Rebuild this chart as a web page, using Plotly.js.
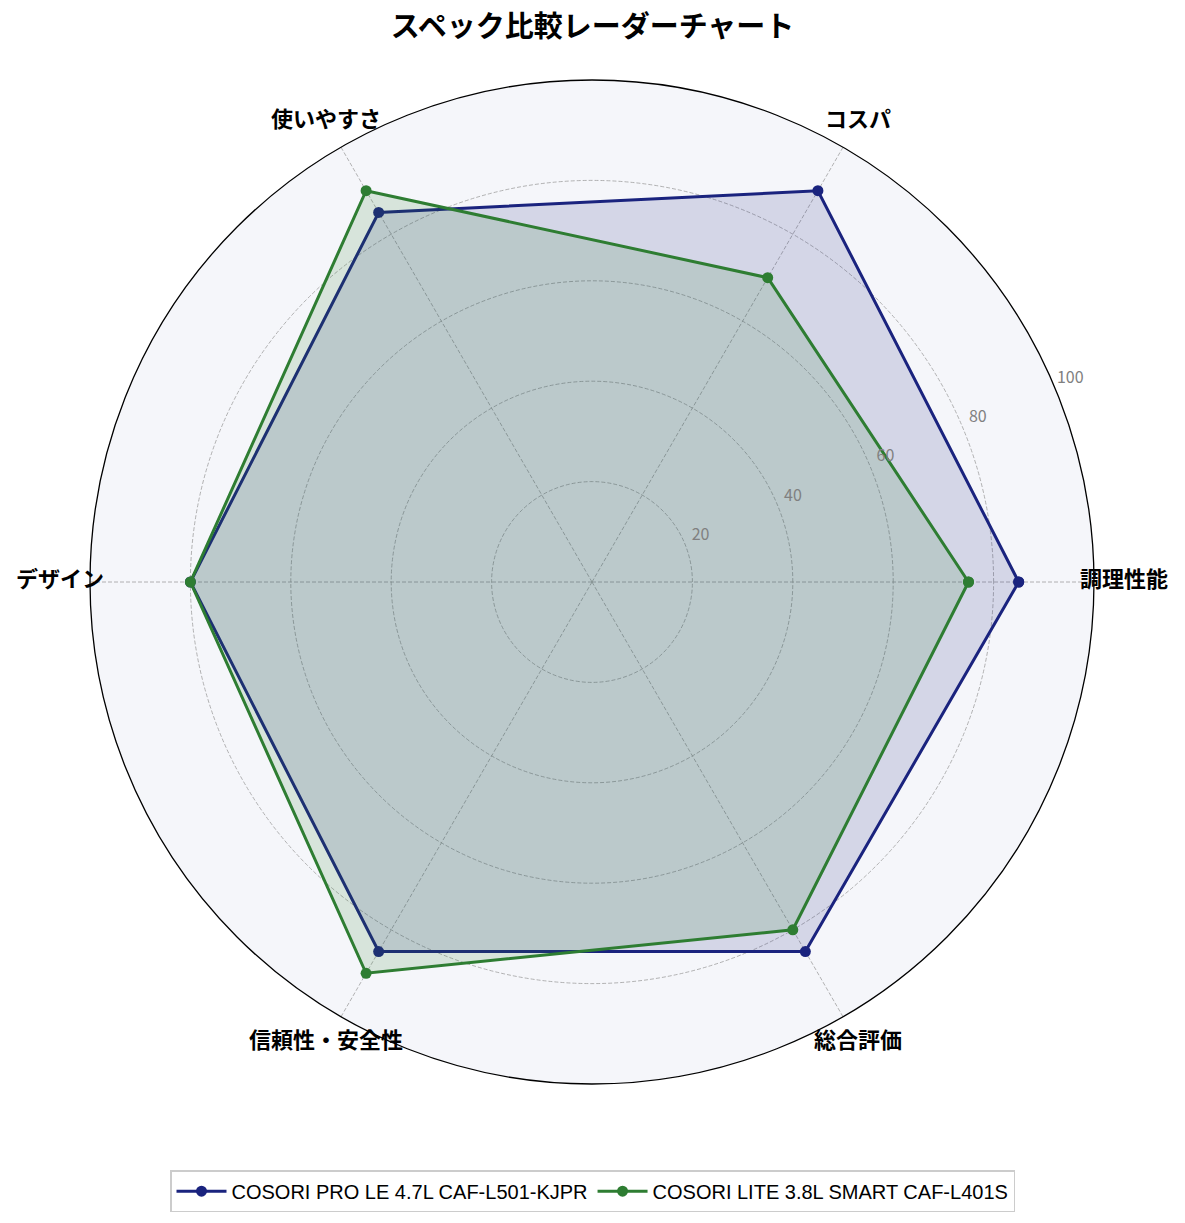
<!DOCTYPE html>
<html>
<head>
<meta charset="utf-8">
<script src="https://cdn.plot.ly/plotly-3.0.1.min.js"></script>
<style>
  html, body { margin: 0; padding: 0; background: #fff; }
  #chart { width: 1185px; height: 1223px; }
</style>
</head>
<body>
<div id="chart"></div>
<script>
// categories and scores
const categories = ["調理性能", "コスパ", "使いやすさ", "デザイン", "信頼性・安全性", "総合評価"];
const proName = "COSORI PRO LE 4.7L CAF-L501-KJPR";
const liteName = "COSORI LITE 3.8L SMART CAF-L401S";
const proScores = [85, 90, 85, 80, 85, 85];
const liteScores = [75, 70, 90, 80, 90, 80];
const radialTicks = [20, 40, 60, 80, 100];

const FONT = "'Noto Sans CJK JP', 'Noto Sans', sans-serif";

// one spoke per category, counterclockwise from 3 o'clock
const angles = categories.map((_, i) => i * 360 / categories.length);
const closeUp = arr => arr.concat(arr[0]);

// fill area (no legend) + line/markers (legend) so the legend shows only the line symbol
const fillTrace = (vals, fill) => ({
  type: "scatterpolar",
  r: closeUp(vals),
  theta: closeUp(angles),
  mode: "none",
  fill: "toself",
  fillcolor: fill,
  showlegend: false,
  hoverinfo: "skip"
});

const lineTrace = (name, vals, color) => ({
  type: "scatterpolar",
  name: name,
  r: closeUp(vals),
  theta: closeUp(angles),
  mode: "lines+markers",
  line: { color: color, width: 3 },
  marker: { color: color, size: 11 }
});

// labels live on a twin polar with the same scale but range to 106,
// so they can sit outside the rim like matplotlib's tick labels
const LABEL_R = 106;
const catLabels = {
  type: "scatterpolar",
  subplot: "polar2",
  r: categories.map(() => LABEL_R),
  theta: angles,
  mode: "text",
  text: categories,
  textposition: "middle center",
  textfont: { size: 22, color: "#000", family: FONT, weight: "bold" },
  cliponaxis: false,
  showlegend: false,
  hoverinfo: "skip"
};

const rLabels = {
  type: "scatterpolar",
  subplot: "polar2",
  r: radialTicks.map(v => v + 3.5),
  theta: radialTicks.map(() => 23),
  mode: "text",
  text: radialTicks.map(String),
  textposition: "middle center",
  textfont: { size: 16, color: "#808080", family: FONT },
  cliponaxis: false,
  showlegend: false,
  hoverinfo: "skip"
};

const data = [
  fillTrace(proScores, "rgba(26,35,126,0.15)"),
  lineTrace(proName, proScores, "#1a237e"),
  fillTrace(liteScores, "rgba(46,125,50,0.15)"),
  lineTrace(liteName, liteScores, "#2e7d32"),
  catLabels,
  rLabels
];

// centre (592, 582) px, radius 502 px for r=100
const cx = 592, cy = 1223 - 582, R = 502, W = 1185, H = 1223;
const dom = rad => ({ x: [(cx - rad) / W, (cx + rad) / W], y: [(cy - rad) / H, (cy + rad) / H] });

const layout = {
  width: W, height: H,
  margin: { t: 0, l: 0, r: 0, b: 0 },
  paper_bgcolor: "#ffffff",
  font: { family: FONT, color: "#000" },
  title: {
    text: "<b>スペック比較レーダーチャート</b>",
    font: { size: 29, family: FONT, color: "#000" },
    x: 0.5, xanchor: "center", y: 0.978, yanchor: "middle"
  },
  polar: {
    domain: dom(R),
    bgcolor: "#f5f6fa",
    radialaxis: {
      range: [0, 100],
      tickvals: radialTicks,
      showticklabels: false,
      showline: false,
      ticks: "",
      gridcolor: "#a0a0a0",
      griddash: "4px,2px",
      gridwidth: 0.8
    },
    angularaxis: {
      type: "linear",
      thetaunit: "degrees",
      tickvals: angles,
      showticklabels: false,
      rotation: 0,
      direction: "counterclockwise",
      showline: true,
      linecolor: "#000",
      linewidth: 1.3,
      ticks: "",
      gridcolor: "#a0a0a0",
      griddash: "4px,2px",
      gridwidth: 0.8
    }
  },
  polar2: {
    domain: dom(R * LABEL_R / 100),
    bgcolor: "rgba(0,0,0,0)",
    radialaxis: {
      range: [0, LABEL_R],
      showticklabels: false, showline: false, showgrid: false, ticks: ""
    },
    angularaxis: {
      type: "linear",
      thetaunit: "degrees",
      rotation: 0,
      direction: "counterclockwise",
      showticklabels: false, showline: false, showgrid: false, ticks: ""
    }
  },
  showlegend: true,
  legend: {
    orientation: "h",
    x: 0.5, xanchor: "center",
    y: 0.026, yanchor: "middle",
    bordercolor: "#cccccc",
    borderwidth: 1.5,
    bgcolor: "#ffffff",
    itemwidth: 50,
    font: { size: 20, family: "'Liberation Sans', Arial, sans-serif", color: "#000" }
  }
};

Plotly.newPlot("chart", data, layout, { displayModeBar: false, staticPlot: true });
</script>
</body>
</html>
